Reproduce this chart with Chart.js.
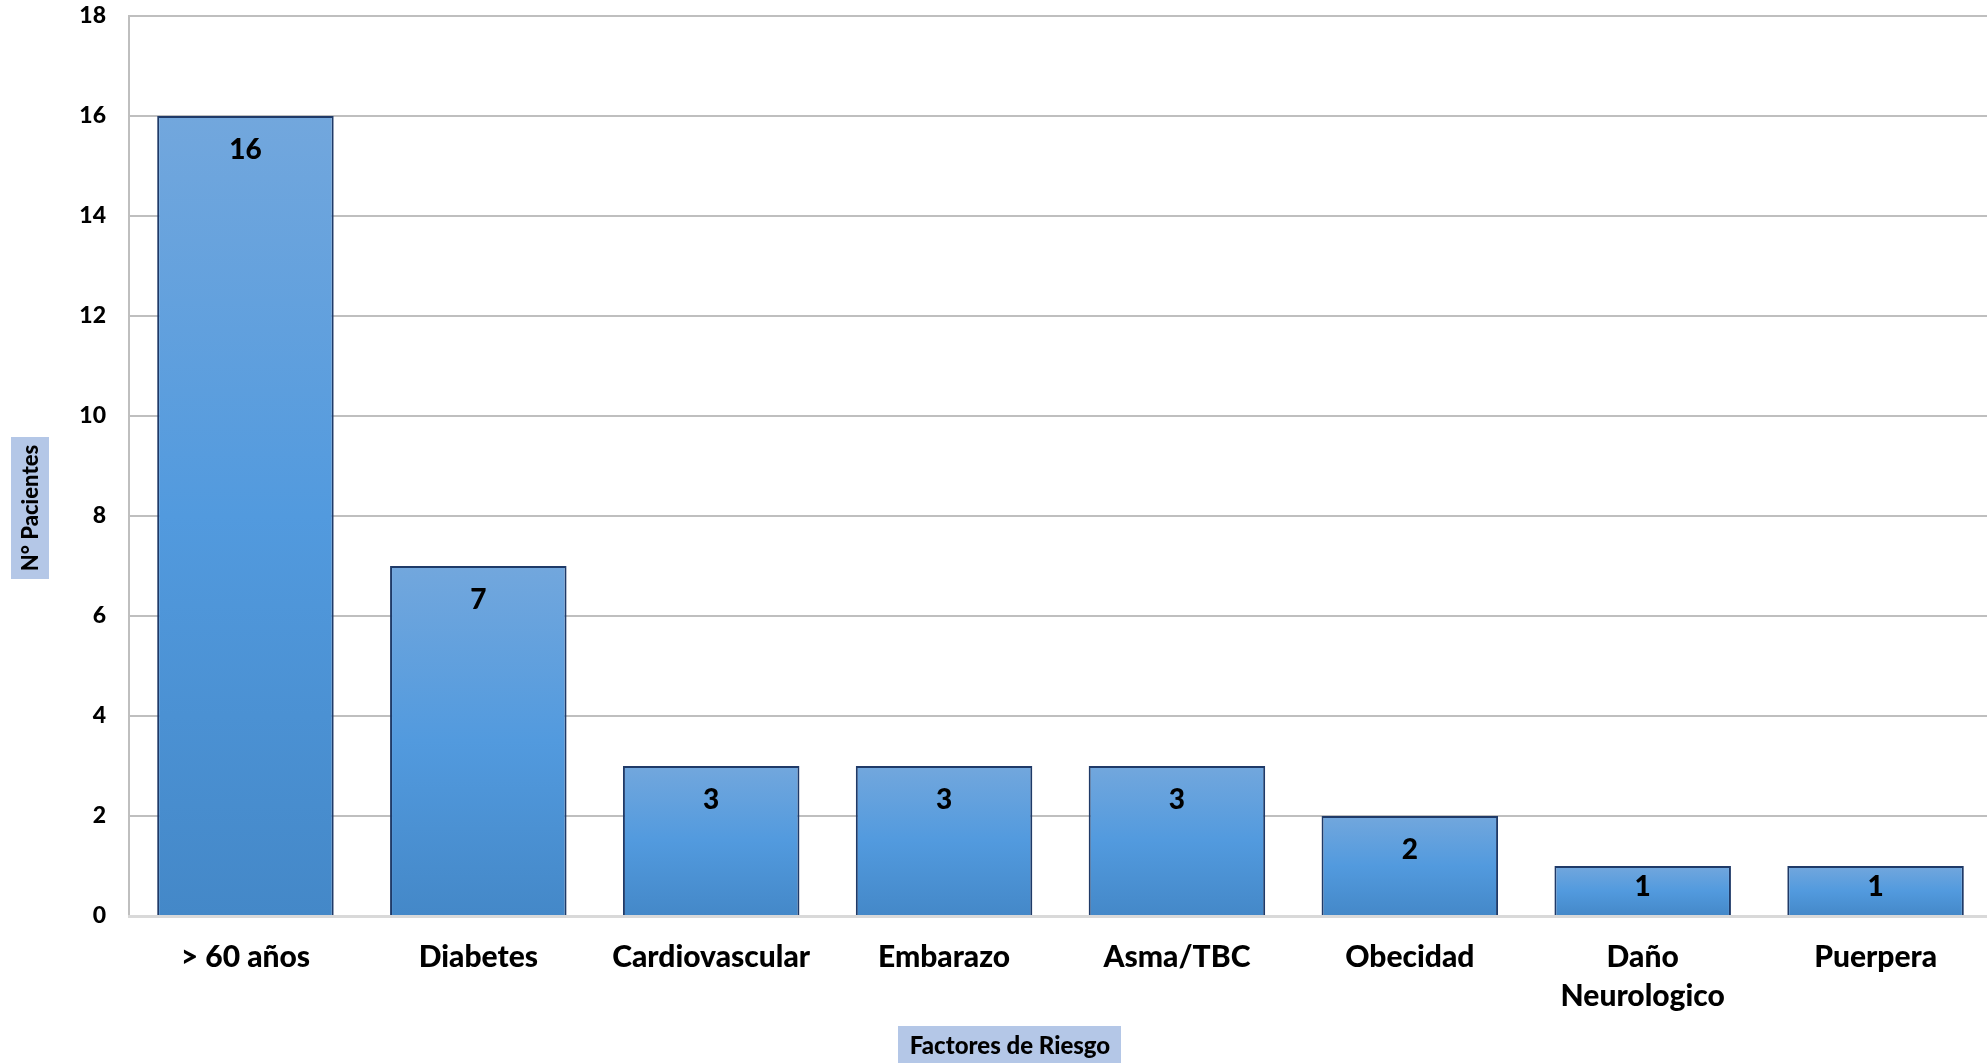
<!DOCTYPE html>
<html>
<head>
<meta charset="utf-8">
<script src="https://cdn.jsdelivr.net/npm/chart.js@4"></script>
<style>
  body { margin: 0; background: #fff; overflow: hidden; }
  #wrap { width: 1992px; height: 1063px; position: relative; }
</style>
</head>
<body>
<div id="wrap"><canvas id="factores-chart"></canvas></div>
<script>
const categories = ["> 60 años", "Diabetes", "Cardiovascular", "Embarazo", "Asma/TBC", "Obecidad", ["Daño", "Neurologico"], "Puerpera"]
const pacientes = [16, 7, 3, 3, 3, 2, 1, 1]
const yTitle = "N° Pacientes"
const xTitle = "Factores de Riesgo"
const FONT = "Lato"

const barGradient = (ctx) => {
  const chart = ctx.chart
  const y = chart.scales.y
  if (!chart.chartArea || !y || ctx.raw === undefined) return "#5399dd"
  const top = y.getPixelForValue(ctx.raw)
  const bot = y.getPixelForValue(0)
  const g = chart.ctx.createLinearGradient(0, top, 0, bot)
  g.addColorStop(0, "#72a7dd")
  g.addColorStop(0.5, "#529ade")
  g.addColorStop(1, "#4488c8")
  return g
}

// value labels inside the top of each bar
const valueLabels = {
  id: 'valueLabels',
  afterDatasetsDraw(chart) {
    const ctx = chart.ctx
    const meta = chart.getDatasetMeta(0)
    ctx.save()
    ctx.font = "900 28px " + FONT
    ctx.fillStyle = "#000"
    ctx.textAlign = "center"
    ctx.textBaseline = "middle"
    meta.data.forEach((bar, i) => {
      const yy = Math.min(bar.y + 34, (bar.y + bar.base) / 2 - 4)
      ctx.fillText(pacientes[i], bar.x, yy)
    })
    ctx.restore()
  }
}

// axis titles with filled boxes, as in the original
const boxTitles = {
  id: 'boxTitles',
  afterDraw(chart) {
    const ctx = chart.ctx
    ctx.save()
    ctx.fillStyle = "#b4c7e7"
    ctx.fillRect(11, 437, 38, 142)
    ctx.fillRect(898, 1026, 223, 37)
    ctx.fillStyle = "#000"
    ctx.textAlign = "center"
    ctx.textBaseline = "middle"
    ctx.font = "900 22px " + FONT
    ctx.translate(31, 508)
    ctx.rotate(-Math.PI / 2)
    ctx.fillText(yTitle, 0, 0)
    ctx.restore()
    ctx.save()
    ctx.fillStyle = "#000"
    ctx.textAlign = "center"
    ctx.textBaseline = "middle"
    ctx.font = "900 24px " + FONT
    ctx.fillText(xTitle, 1010, 1046)
    ctx.restore()
  }
}

new Chart(document.getElementById("factores-chart"), {
  type: 'bar',
  data: {
    labels: categories,
    datasets: [{
      data: pacientes,
      backgroundColor: barGradient,
      borderColor: "#1f3a68",
      borderWidth: 2,
      barPercentage: 0.758,
      categoryPercentage: 1.0
    }]
  },
  options: {
    animation: false,
    responsive: true,
    maintainAspectRatio: false,
    devicePixelRatio: 1,
    layout: { autoPadding: false, padding: { top: 16, left: 0, right: 0, bottom: 0 } },
    plugins: {
      legend: { display: false },
      tooltip: { enabled: false }
    },
    scales: {
      y: {
        min: 0,
        max: 18,
        afterFit: (s) => {
          s.width = 129
          s.paddingTop = 0
          s.paddingBottom = 0
        },
        ticks: {
          stepSize: 2,
          padding: 23,
          color: "#000",
          font: { family: FONT, size: 23, weight: '900' }
        },
        grid: { color: "#bfbfbf", lineWidth: 2, drawTicks: false },
        border: { color: "#bfbfbf", width: 2 }
      },
      x: {
        afterFit: (s) => { s.height = 147 },
        ticks: {
          padding: 22,
          maxRotation: 0,
          autoSkip: false,
          color: "#000",
          font: { family: FONT, size: 30, weight: '900', lineHeight: 1.3 }
        },
        grid: { display: false, drawTicks: false },
        border: { color: "#d9d9d9", width: 3 }
      }
    }
  },
  plugins: [valueLabels, boxTitles]
});
</script>
</body>
</html>
